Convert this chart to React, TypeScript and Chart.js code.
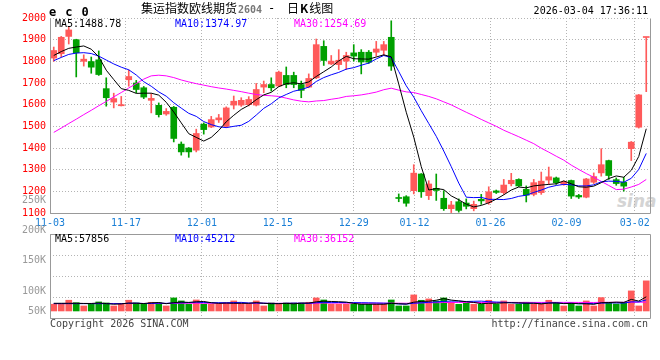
import React, { useEffect, useRef } from "react";
import { Chart, registerables } from "chart.js";
Chart.register(...registerables);

// ---------- data ----------
const DATES = [
  "11-03","11-04","11-05","11-06","11-07","11-10","11-11","11-12","11-13","11-14",
  "11-17","11-18","11-19","11-20","11-21","11-24","11-25","11-26","11-27","11-28",
  "12-01","12-02","12-03","12-04","12-05","12-08","12-09","12-10","12-11","12-12",
  "12-15","12-16","12-17","12-18","12-19","12-22","12-23","12-24","12-25","12-26",
  "12-29","12-30","12-31","01-05","01-06","01-07","01-08","01-09","01-12","01-13",
  "01-14","01-15","01-16","01-19","01-20","01-21","01-22","01-23","01-26","01-27",
  "01-28","01-29","01-30","02-02","02-03","02-04","02-05","02-06","02-09","02-10",
  "02-11","02-12","02-13","02-24","02-25","02-26","02-27","03-02","03-03","03-04",
];
const TICK_DATES = ["11-03","11-17","12-01","12-15","12-29","01-12","01-26","02-09","03-02"];

const OPEN = [
  1815,1835,1915,1900,1800,1799,1807,1674,1612,1595,
  1715,1700,1678,1620,1597,1557,1588,1418,1400,1390,
  1510,1497,1530,1500,1598,1598,1600,1598,1681,1693,
  1686,1735,1735,1693,1681,1724,1869,1788,1785,1801,
  1839,1842,1842,1842,1851,1911,1170,1175,1203,1280,
  1180,1214,1168,1120,1152,1146,1120,1163,1148,1202,
  1194,1235,1255,1209,1186,1194,1252,1262,1233,1250,
  1181,1173,1242,1285,1342,1254,1242,1397,1496,1910,
];
const HIGH = [
  1866,1915,1960,1902,1830,1820,1848,1724,1653,1638,
  1760,1712,1684,1651,1608,1582,1592,1428,1402,1487,
  1516,1546,1555,1590,1640,1632,1637,1698,1709,1724,
  1755,1774,1750,1709,1742,1903,1895,1827,1854,1842,
  1877,1854,1850,1892,1892,1987,1188,1180,1323,1282,
  1249,1280,1203,1154,1165,1165,1155,1186,1221,1206,
  1255,1283,1258,1225,1255,1289,1312,1266,1248,1252,
  1186,1260,1285,1397,1344,1262,1265,1430,1647,1910,
];
const LOW = [
  1800,1820,1880,1728,1778,1745,1735,1593,1585,1594,
  1685,1655,1628,1562,1543,1551,1428,1367,1357,1382,
  1464,1494,1518,1494,1580,1592,1594,1594,1655,1663,
  1683,1678,1678,1632,1678,1720,1781,1785,1762,1762,
  1801,1742,1790,1824,1827,1758,1152,1131,1188,1172,
  1162,1158,1112,1102,1104,1119,1110,1140,1140,1190,
  1186,1225,1222,1151,1179,1186,1232,1232,1228,1167,
  1167,1170,1236,1270,1255,1228,1201,1342,1492,1660,
];
const CLOSE = [
  1850,1911,1945,1840,1810,1773,1739,1632,1628,1600,
  1730,1670,1635,1629,1554,1569,1444,1382,1382,1467,
  1485,1531,1539,1585,1616,1620,1624,1670,1693,1678,
  1750,1693,1693,1666,1721,1877,1804,1801,1805,1827,
  1824,1797,1796,1857,1877,1778,1167,1145,1284,1198,
  1234,1204,1120,1137,1112,1131,1140,1156,1198,1195,
  1229,1251,1225,1182,1240,1247,1267,1240,1244,1178,
  1174,1257,1268,1323,1273,1236,1224,1427,1645,1910,
];
const MA5 = [
  1827,1845,1860,1866,1871,1856,1821,1759,1716,1674,
  1666,1652,1653,1653,1644,1611,1566,1516,1466,1449,
  1432,1449,1481,1521,1551,1578,1597,1623,1645,1657,
  1683,1697,1701,1696,1705,1730,1752,1774,1802,1823,
  1812,1811,1810,1820,1830,1821,1695,1565,1450,1314,
  1206,1213,1208,1179,1161,1141,1128,1135,1147,1164,
  1184,1206,1220,1216,1225,1229,1232,1235,1248,1235,
  1221,1219,1224,1240,1259,1271,1265,1297,1361,1488.78,
];
const MA10 = [
  1803,1818,1832,1838,1840,1836,1824,1806,1788,1773,
  1761,1737,1706,1685,1659,1639,1609,1584,1560,1546,
  1522,1508,1498,1494,1500,1505,1523,1552,1583,1604,
  1631,1647,1662,1670,1681,1707,1725,1738,1749,1764,
  1771,1782,1792,1811,1827,1817,1753,1687,1635,1572,
  1513,1454,1386,1314,1238,1173,1171,1172,1163,1163,
  1162,1167,1177,1182,1195,1206,1219,1227,1232,1230,
  1225,1225,1230,1244,1247,1246,1242,1260,1301,1374.97,
];
const MA30 = [
  1472,1492,1513,1533,1554,1574,1595,1615,1636,1656,
  1677,1697,1718,1733,1736,1733,1725,1714,1705,1697,
  1690,1683,1677,1672,1666,1660,1653,1647,1643,1641,
  1638,1630,1622,1616,1613,1617,1619,1625,1630,1638,
  1641,1645,1651,1658,1669,1676,1667,1659,1656,1647,
  1638,1627,1613,1599,1582,1565,1549,1532,1516,1500,
  1482,1467,1452,1436,1420,1399,1381,1362,1344,1321,
  1301,1282,1265,1246,1227,1208,1210,1220,1232,1254.69,
];
const VOLUME = [
  27500,27500,43900,34000,20500,27500,36900,32800,20500,27500,
  43900,32800,27500,35500,32800,20500,53300,41000,27500,45000,
  27500,27500,27500,32800,41000,27500,27500,41000,20500,32800,
  27500,32800,32800,32800,35500,53300,45000,27500,27500,27500,
  27500,27500,27500,27500,27500,45000,20500,20500,65600,43700,
  49200,41000,53300,35500,27300,31400,27300,27300,43700,27300,
  41000,27300,27300,35500,27300,27300,43700,31400,20500,32800,
  20500,41000,20500,54700,35500,28700,35500,82000,20500,123000,
];
const VOL_MA5 = [
  31400,31400,31400,31400,30700,30700,32600,30300,27600,29000,
  32300,31500,30400,33400,34500,29800,33900,36600,35000,37500,
  38900,33700,31000,32100,31300,31300,31300,34000,31500,29900,
  29900,30900,29300,31700,32300,37400,39900,38800,37800,36200,
  31000,27500,27500,27500,27500,31000,29600,28200,35800,39100,
  39900,44000,50600,44500,41300,37700,35000,29800,31400,31400,
  33300,33300,33300,31700,31700,28900,32200,33000,30000,31100,
  29800,29200,27100,33900,34400,36100,35000,47300,40400,57856,
];
const VOL_MA10 = [
  30000,30000,30000,30000,30000,30000,30000,30000,30000,29900,
  31500,32000,30400,30500,31800,31000,32700,33500,34200,36000,
  34400,33800,33800,33600,34400,35100,32500,32500,31800,30600,
  30600,31100,31700,31600,31100,33700,35400,34100,34800,34300,
  34200,33700,33200,32700,31900,31000,28600,27900,31700,33300,
  35500,36800,39400,40200,40200,38800,39500,40200,38000,36400,
  35500,34200,31600,31600,31600,31100,32800,33200,30900,31400,
  29400,30700,30100,32000,32800,33000,32100,37200,37200,45212,
];
const VOL_MA30 = [
  30500,30600,30800,30800,30700,30600,30700,30700,30600,30500,
  30700,30800,30700,30800,30900,30700,31200,31500,31400,31600,
  31500,31400,31300,31400,31600,31500,31400,31600,31400,31400,
  31300,31400,31400,31500,31600,32000,32300,32200,32200,32100,
  32000,31900,31900,31800,31700,32000,31700,31500,32400,32900,
  33500,33800,34500,34700,34800,34700,34600,34600,35000,34900,
  35200,35100,35000,35100,35000,34900,35200,35200,35100,35100,
  34900,35000,34800,35300,35400,35300,35400,35900,35800,36152,
];
const MA_LEGEND = [1488.78, 1374.97, 1254.69];
const VOL_LEGEND = [57856, 45212, 36152];
const VOL_LABELS = [250000, 200000, 150000, 100000, 50000];

// ---------- styles ----------
const N = CLOSE.length;
const UP = "#ff5a5a";
const DOWN = "#00a000";
const MONO = "'DejaVu Sans Mono', monospace";
const CJK = "'Noto Sans CJK SC', sans-serif";
const GRID = "#b4b4b4";
const FRAME = "#999999";
const XLABEL = "#1a7fd6";
const candleColors = CLOSE.map((c, i) => (c >= OPEN[i] ? UP : DOWN));
const TICK_INDEX = TICK_DATES.map((d) => DATES.indexOf(d));

const framePlugin: any = {
  id: "frame",
  afterDraw(chart: any, _a: any, opts: any) {
    const { ctx, chartArea: a } = chart;
    const l = Math.round(a.left) + 0.5;
    const r = Math.round(a.right) + 0.5;
    const t = Math.round(a.top) + 0.5;
    const b = Math.round(a.bottom) + 0.5;
    ctx.save();
    ctx.strokeStyle = FRAME;
    ctx.lineWidth = 1;
    ctx.beginPath();
    if (opts && opts.dashedTop) {
      ctx.moveTo(l, t);
      ctx.lineTo(l, b);
      ctx.lineTo(r, b);
      ctx.lineTo(r, t);
    } else {
      ctx.rect(l, t, r - l, b - t);
    }
    ctx.stroke();
    ctx.restore();
  },
};

const volLabelPlugin: any = {
  id: "volLabels",
  afterDraw(chart: any) {
    const s = chart.scales.yl;
    const a = chart.chartArea;
    const ctx = chart.ctx;
    ctx.save();
    ctx.fillStyle = "#999999";
    ctx.font = `10px ${MONO}`;
    ctx.textAlign = "right";
    ctx.textBaseline = "middle";
    VOL_LABELS.forEach((v) => {
      const y = Math.min(s.getPixelForValue(v), a.bottom - 7);
      ctx.fillText(Math.round(v / 1000) + "K", a.left - 4, y);
    });
    ctx.restore();
  },
};

function dateAxis(showLabels: boolean): any {
  return {
    type: "linear",
    axis: "x",
    position: "bottom",
    offset: false,
    min: 0,
    max: N - 1,
    grid: { color: GRID, lineWidth: 1, drawTicks: false, offset: false },
    border: { display: false, dash: [1, 2] },
    afterBuildTicks: (s: any) => {
      s.ticks = TICK_INDEX.map((v) => ({ value: v }));
    },
    afterFit: (s: any) => {
      s.height = showLabels ? 20 : 0;
    },
    ticks: {
      display: showLabels,
      autoSkip: false,
      maxRotation: 0,
      minRotation: 0,
      padding: 4,
      color: XLABEL,
      font: { family: MONO, size: 10 },
      callback: (v: any) => DATES[v] ?? "",
    },
  };
}

const lineDs = (data: number[], color: string, yAxisID: string) => ({
  type: "line" as const,
  data,
  borderColor: color,
  borderWidth: 1,
  pointRadius: 0,
  tension: 0,
  fill: false,
  xAxisID: "x",
  yAxisID,
  order: 0,
});

function mainConfig(): any {
  return {
    type: "bar",
    data: {
      labels: DATES,
      datasets: [
        lineDs(MA5, "#000000", "y"),
        lineDs(MA10, "#0000ff", "y"),
        lineDs(MA30, "#ff00ff", "y"),
        {
          type: "bar",
          data: OPEN.map((o, i) => [Math.min(o, CLOSE[i]), Math.max(o, CLOSE[i])]),
          backgroundColor: candleColors,
          borderWidth: 0,
          barThickness: 6,
          minBarLength: 1,
          grouped: false,
          xAxisID: "x",
          yAxisID: "y",
          order: 1,
        },
        {
          type: "bar",
          data: LOW.map((l, i) => [l, HIGH[i]]),
          backgroundColor: candleColors,
          borderWidth: 0,
          barThickness: 1,
          grouped: false,
          xAxisID: "x",
          yAxisID: "y",
          order: 2,
        },
      ],
    },
    options: {
      animation: false,
      responsive: false,
      devicePixelRatio: 1,
      events: [],
      layout: { padding: { left: 0, right: 10, top: 18, bottom: 127 } },
      plugins: { legend: { display: false }, tooltip: { enabled: false }, frame: { dashedTop: true } },
      scales: {
        x: { type: "category", offset: true, display: false, grid: { display: false } },
        xg: dateAxis(true),
        y: {
          type: "linear",
          position: "left",
          min: 1100,
          max: 2000,
          grid: { color: GRID, drawTicks: false },
          border: { display: false, dash: [1, 2] },
          afterFit: (s: any) => {
            s.width = 50;
          },
          ticks: {
            stepSize: 100,
            padding: 4,
            color: "#ff0000",
            font: { family: MONO, size: 10 },
            callback: (v: any) => String(v),
          },
        },
      },
    },
    plugins: [framePlugin],
  };
}

function volConfig(): any {
  return {
    type: "bar",
    data: {
      labels: DATES,
      datasets: [
        lineDs(VOL_MA5, "#000000", "y"),
        lineDs(VOL_MA10, "#0000ff", "y"),
        lineDs(VOL_MA30, "#ff00ff", "y"),
        {
          type: "bar",
          data: VOLUME,
          backgroundColor: candleColors,
          borderWidth: 0,
          barThickness: 6,
          xAxisID: "x",
          yAxisID: "y",
          order: 1,
        },
      ],
    },
    options: {
      animation: false,
      responsive: false,
      devicePixelRatio: 1,
      events: [],
      layout: { padding: { left: 50, right: 10, top: 234, bottom: 42 } },
      plugins: { legend: { display: false }, tooltip: { enabled: false }, frame: { dashedTop: false } },
      scales: {
        x: { type: "category", offset: true, display: false, grid: { display: false } },
        xg: dateAxis(false),
        y: { type: "linear", display: false, min: -28700, max: 314500 },
        yl: { type: "linear", axis: "y", display: false, min: 55400, max: 194000 },
        yg: {
          type: "linear",
          axis: "y",
          position: "left",
          min: 0,
          max: 4,
          grid: { color: GRID, drawTicks: false },
          border: { display: false, dash: [1, 2] },
          ticks: { stepSize: 1, display: false },
          afterFit: (s: any) => {
            s.width = 0;
          },
        },
      },
    },
    plugins: [framePlugin, volLabelPlugin],
  };
}

const T = (p: { x?: number; r?: number; y: number; style?: React.CSSProperties; children: React.ReactNode }) => (
  <div
    style={{
      position: "absolute",
      left: p.x,
      right: p.r,
      top: p.y,
      whiteSpace: "pre",
      lineHeight: "12px",
      fontFamily: MONO,
      fontSize: 10,
      color: "#000",
      ...p.style,
    }}
  >
    {p.children}
  </div>
);

export default function App() {
  const mainRef = useRef<HTMLCanvasElement>(null);
  const volRef = useRef<HTMLCanvasElement>(null);

  useEffect(() => {
    const c1 = new Chart(mainRef.current as HTMLCanvasElement, mainConfig());
    const c2 = new Chart(volRef.current as HTMLCanvasElement, volConfig());
    return () => {
      c1.destroy();
      c2.destroy();
    };
  }, []);

  const canvasStyle: React.CSSProperties = { position: "absolute", left: 0, top: 0, width: 660, height: 360 };

  return (
    <div style={{ position: "absolute", left: 0, top: 0, width: 660, height: 360, overflow: "hidden", background: "#fff" }}>
      <T x={617} y={191} style={{ fontFamily: "'DejaVu Sans', sans-serif", fontSize: 17, fontWeight: 700, fontStyle: "italic", color: "#d4d4d4", lineHeight: "20px" }}>
        sina
      </T>
      <canvas ref={mainRef} width={660} height={360} style={canvasStyle} />
      <canvas ref={volRef} width={660} height={360} style={canvasStyle} />

      <T x={49} y={6} style={{ fontWeight: 700, fontSize: 12, letterSpacing: "9px" }}>ec0</T>
      <T x={141} y={2} style={{ fontFamily: CJK, fontSize: 12 }}>集运指数欧线期货</T>
      <T x={238} y={4} style={{ fontWeight: 700, color: "#777" }}>2604</T>
      <T x={268} y={2} style={{ fontSize: 12 }}>-</T>
      <T x={287} y={2} style={{ fontFamily: CJK, fontSize: 12 }}>
        日<b style={{ padding: "0 1px" }}>K</b>线图
      </T>
      <T r={12} y={5}>2026-03-04 17:36:11</T>

      <T x={55} y={18}>{`MA5:${MA_LEGEND[0].toFixed(2)}`}</T>
      <T x={175} y={18} style={{ color: "#0000ff" }}>{`MA10:${MA_LEGEND[1].toFixed(2)}`}</T>
      <T x={294} y={18} style={{ color: "#ff00ff" }}>{`MA30:${MA_LEGEND[2].toFixed(2)}`}</T>

      <T x={55} y={233}>{`MA5:${VOL_LEGEND[0]}`}</T>
      <T x={175} y={233} style={{ color: "#0000ff" }}>{`MA10:${VOL_LEGEND[1]}`}</T>
      <T x={294} y={233} style={{ color: "#ff00ff" }}>{`MA30:${VOL_LEGEND[2]}`}</T>

      <T x={50} y={318} style={{ color: "#444" }}>Copyright 2026 SINA.COM</T>
      <T r={12} y={318} style={{ color: "#444" }}>http://finance.sina.com.cn</T>
    </div>
  );
}
